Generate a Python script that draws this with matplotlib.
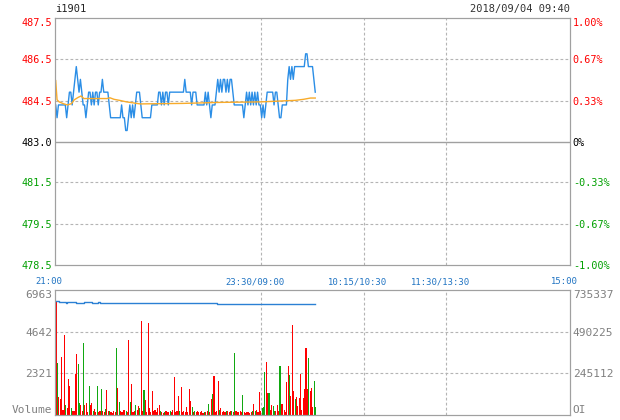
import numpy as np
import matplotlib.pyplot as plt
from matplotlib.transforms import ScaledTranslation

plt.rcParams['font.family'] = ['DejaVu Sans Mono', 'DejaVu Sans']

# ---- header ----
code = "i1901"
stamp = "2018/09/04 09:40"
base_price = 483.07

# ---- 1 minute prices, 21:00 -> 09:40 ----
price = [
    484.5, 484.0, 484.5, 484.5, 484.5, 484.5, 484.5, 484.5, 484.0, 484.5,
    485.0, 485.0, 484.5, 485.0, 485.5, 486.0, 485.5, 485.0, 485.5, 485.0,
    484.5, 484.5, 484.0, 484.5, 485.0, 485.0, 484.5, 485.0, 484.5, 485.0,
    485.0, 484.5, 485.0, 485.0, 485.5, 485.0, 485.0, 485.0, 485.0, 484.5,
    484.0, 484.0, 484.0, 484.0, 484.0, 484.0, 484.0, 484.0, 484.5, 484.0,
    484.0, 483.5, 483.5, 484.0, 484.5, 484.0, 484.5, 484.0, 484.5, 485.0,
    485.0, 485.0, 484.5, 484.0, 484.0, 484.0, 484.0, 484.0, 484.0, 484.0,
    484.5, 484.5, 484.5, 484.5, 484.5, 485.0, 485.0, 484.5, 485.0, 484.5,
    485.0, 485.0, 484.5, 485.0, 485.0, 485.0, 485.0, 485.0, 485.0, 485.0,
    485.0, 485.0, 485.0, 485.0, 485.5, 485.0, 485.0, 485.0, 485.0, 484.5,
    485.0, 485.0, 485.0, 484.5, 484.5, 484.5, 484.5, 484.5, 484.5, 485.0,
    484.5, 485.0, 484.5, 484.0, 484.5, 484.5, 484.5, 485.0, 485.5, 485.0,
    485.5, 485.0, 485.5, 485.5, 485.0, 485.5, 485.0, 485.5, 485.5, 485.0,
    484.5, 484.5, 484.5, 484.5, 484.5, 484.5, 484.5, 484.0, 484.5, 485.0,
    484.5, 485.0, 484.5, 485.0, 484.5, 485.0, 484.5, 485.0, 484.5, 484.5,
    484.0, 484.5, 484.0, 484.5, 485.0, 485.0, 485.0, 485.0, 485.0, 484.5,
    485.0, 485.0, 484.5, 484.0, 484.0, 484.5, 484.5, 484.5, 484.5, 485.5,
    486.0, 485.5, 486.0, 485.5, 486.0, 486.0, 486.0, 486.0, 486.0, 486.0,
    486.0, 486.0, 486.5, 486.5, 486.0, 486.0, 486.0, 486.0, 485.5, 485.0,
]

# average price line (minute, value)
avg_min = [0.5, 1.5, 3, 6, 9, 12, 14, 17, 19, 21, 38, 40, 43, 47, 52, 57, 62,
           93, 121, 150, 175, 181, 186, 189.5]
avg_val = [485.45, 484.70, 484.62, 484.55, 484.50, 484.55, 484.70, 484.80,
           484.85, 484.75, 484.75, 484.78, 484.72, 484.68, 484.62, 484.58,
           484.54, 484.56, 484.60, 484.62, 484.68, 484.72, 484.77, 484.77]

# ---- volume per minute, R = up, G = down ----
volume = [
    6350, 2890, 1010, 890, 3240, 300, 4460, 575, 390, 2000,
    1590, 390, 240, 200, 2280, 3400, 2850, 670, 560, 200,
    4000, 540, 670, 150, 1590, 560, 670, 200, 330, 150,
    1590, 150, 200, 1460, 250, 150, 350, 1400, 200, 240,
    150, 130, 200, 150, 3760, 1500, 700, 200, 150, 260,
    300, 200, 150, 4190, 700, 1740, 150, 200, 570, 300,
    520, 390, 5240, 200, 1400, 850, 150, 5130, 390, 150,
    1310, 200, 300, 150, 390, 540, 240, 150, 110, 150,
    200, 150, 150, 200, 150, 260, 2090, 150, 200, 1040,
    200, 1540, 150, 240, 150, 420, 150, 1460, 760, 460,
    150, 200, 150, 200, 150, 150, 200, 110, 150, 150,
    200, 630, 150, 910, 1170, 2190, 150, 200, 1910, 300,
    390, 150, 200, 150, 200, 240, 150, 200, 200, 150,
    3440, 200, 150, 150, 200, 150, 1130, 150, 110, 150,
    150, 110, 170, 200, 630, 200, 280, 150, 1280, 200,
    390, 440, 2370, 2940, 1240, 1200, 300, 540, 480, 240,
    240, 570, 200, 2740, 610, 610, 300, 150, 1850, 2740,
    2240, 1040, 5020, 1310, 890, 1020, 480, 940, 2300, 300,
    940, 1460, 3760, 1460, 3200, 1350, 1500, 430, 1910, 430,
]
vol_dir = ("RGRRRRRGRR" "RGRRRRGGRR" "GRRRGRRGRR" "GRRGRRGRRG" "RRRRGRGRRR"
           "RGRRGRRRGR" "RGRRGRRRRR" "RRRRRRGRRG" "RRRGRRRRRR" "GRRRRRRRRG"
           "RGRRRRRRGR" "RGRRGRRRRG" "RRRRGRRRGR" "GRRRRRGRRR" "RRRGRGRRRR"
           "GGGRRGRRGG" "RRRGRRRRRR" "GRRRGRRRRR" "RRRRGRRRGG")

# open interest (minute, value)
oi_min = [0, 3, 8, 9, 11, 15, 21, 25, 27, 31, 33, 118, 189.5]
oi_val = [670800, 667000, 661500, 666000, 664000, 661000, 664500, 664500,
          659000, 664000, 661000, 651300, 651300]

# ---- axes labels ----
time_ticks = [0, 150, 225, 285, 375]
time_labels = ['21:00', '23:30/09:00', '10:15/10:30', '11:30/13:30', '15:00']
pct_levels = [-1.0, -0.67, -0.33, 0.0, 0.33, 0.67, 1.0]
price_labels = ['478.5', '479.5', '481.5', '483.0', '484.5', '486.5', '487.5']
pct_labels = ['-1.00%', '-0.67%', '-0.33%', '0%', '0.33%', '0.67%', '1.00%']
level_colors = ['#00a000'] * 3 + ['black'] + ['#ff0000'] * 3
vol_ticks = [0, 2321, 4642, 6963]
vol_labels = ['Volume', '2321', '4642', '6963']
oi_ticks = [0, 245112, 490225, 735337]
oi_labels = ['OI', '245112', '490225', '735337']

grid_c = '#b4b4b4'
spine_c = '#a0a0a0'
dash = (0, (2.5, 2))

fig = plt.figure(figsize=(6.2, 4.2), dpi=100)
W, H = 620.0, 420.0
ax = fig.add_axes([55 / W, 1 - 265 / H, 515 / W, 247 / H])
axv = fig.add_axes([55 / W, 1 - 415 / H, 515 / W, 125 / H])

# ---------------- price panel ----------------
x = np.arange(len(price)) + 0.5
ax.plot(x, price, color='#2b8ee6', lw=1.0, zorder=3)
ax.plot(avg_min, avg_val, color='#f8ab2a', lw=1.0, zorder=3)

lo, hi = base_price * 0.99, base_price * 1.01
ax.set_xlim(0, 375)
ax.set_ylim(lo, hi)
levels = [base_price * (1 + p / 100) for p in pct_levels]
for p, lv in zip(pct_levels[1:-1], levels[1:-1]):
    if p == 0:
        ax.axhline(lv, color=spine_c, lw=1.0, zorder=1)
    else:
        ax.axhline(lv, color=grid_c, lw=0.8, ls=dash, zorder=1)
for t in time_ticks[1:-1]:
    ax.axvline(t, color=grid_c, lw=0.8, ls=dash, zorder=1)

ax.set_yticks(levels)
ax.set_yticklabels(price_labels, fontsize=7.3)
ax.tick_params(axis='y', length=0, pad=2)
ax2 = ax.twinx()
ax2.set_ylim(lo, hi)
ax2.set_yticks(levels)
ax2.set_yticklabels(pct_labels, fontsize=7.3)
ax2.tick_params(axis='y', length=0, pad=2)
for a in (ax, ax2):
    labs = a.get_yticklabels()
    for lab, c in zip(labs, level_colors):
        lab.set_color(c)
    labs[-1].set_va('top')
    for s in a.spines.values():
        s.set_color(spine_c)

ax.set_xticks(time_ticks)
ax.set_xticklabels(time_labels, fontsize=6.4, color='#1f73c2')
ax.tick_params(axis='x', length=0, pad=9)
shift = ScaledTranslation(-6 / 100, 0, fig.dpi_scale_trans)
for lab in ax.get_xticklabels():
    lab.set_transform(lab.get_transform() + shift)

ax.set_title(code, loc='left', fontsize=7.5, pad=4, color='#222222')
ax.set_title(stamp, loc='right', fontsize=7.5, pad=4, color='#333333')

# ---------------- volume panel ----------------
xv = np.arange(len(volume)) + 0.8
bar_c = ['#ff0000' if d == 'R' else '#11a811' for d in vol_dir]
axv.bar(xv, volume, width=0.8, color=bar_c, linewidth=0, antialiased=False,
        zorder=2)
axv.set_xlim(0, 375)
axv.set_ylim(0, vol_ticks[-1])
for v in vol_ticks[1:-1]:
    axv.axhline(v, color=grid_c, lw=0.8, ls=dash, zorder=1)
for t in time_ticks[1:-1]:
    axv.axvline(t, color=grid_c, lw=0.8, ls=dash, zorder=1)
axv.set_xticks([])
axv.set_yticks(vol_ticks)
axv.set_yticklabels(vol_labels, fontsize=8, color='#808080')
axv.tick_params(axis='y', length=0, pad=2)

axo = axv.twinx()
axo.step(oi_min, oi_val, where='post', color='#2b80d4', lw=1.0)
axo.set_ylim(0, oi_ticks[-1])
axo.set_yticks(oi_ticks)
axo.set_yticklabels(oi_labels, fontsize=8, color='#808080')
axo.tick_params(axis='y', length=0, pad=2)
for a in (axv, axo):
    labs = a.get_yticklabels()
    labs[0].set_va('bottom')
    labs[-1].set_va('top')
    for s in a.spines.values():
        s.set_color(spine_c)

fig.savefig('out.png', dpi=100)
